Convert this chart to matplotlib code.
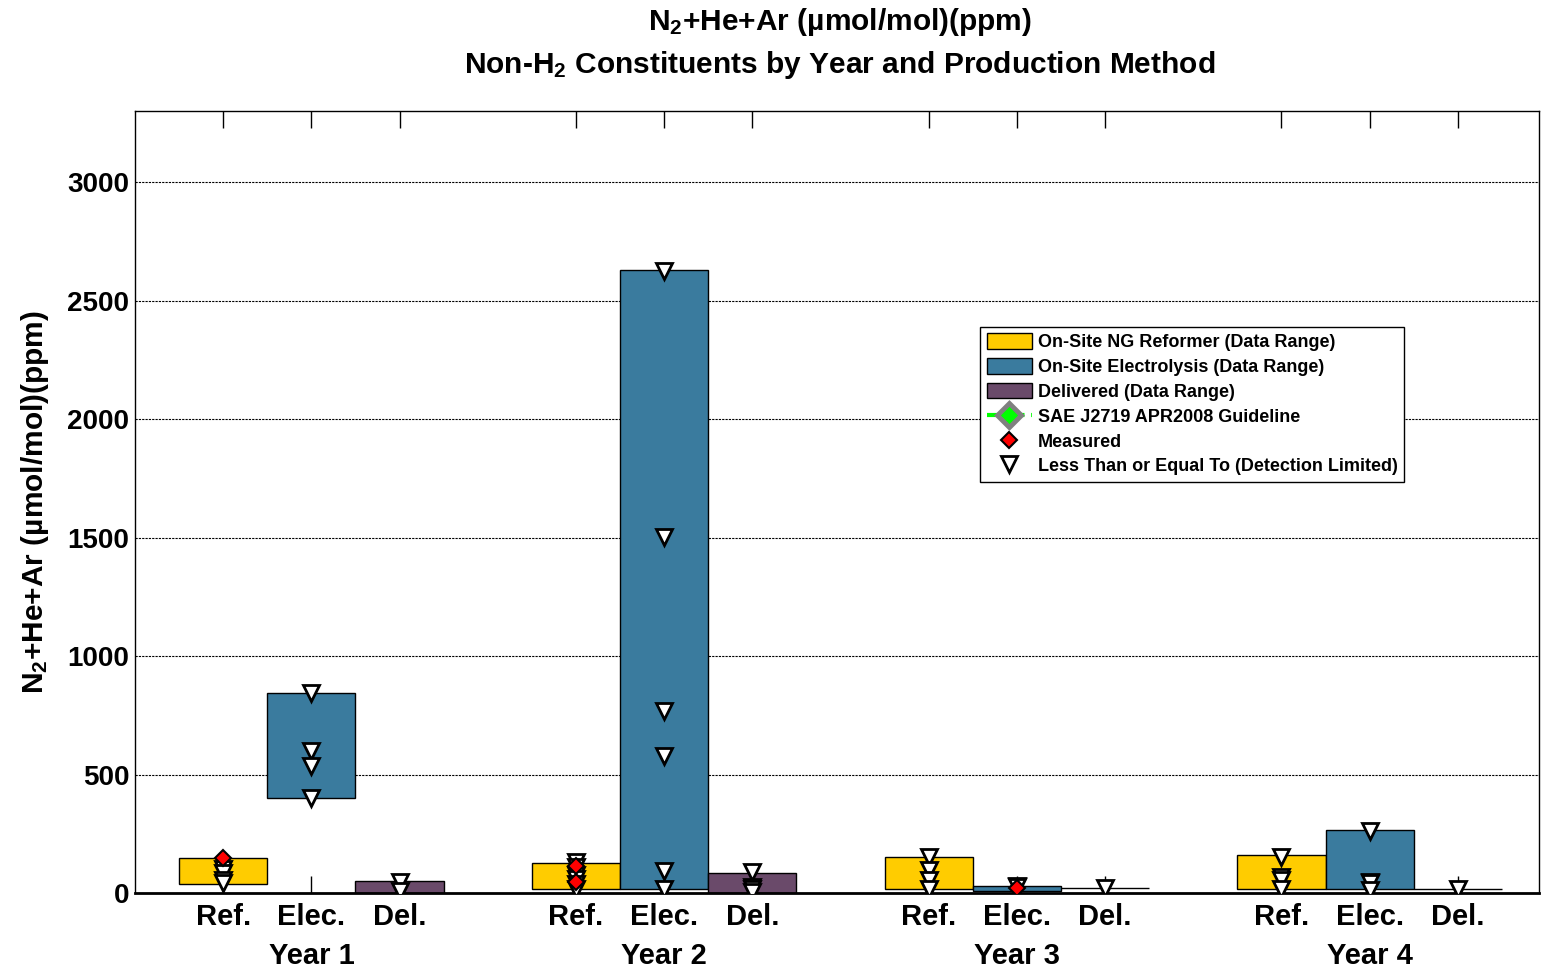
import numpy as np
import matplotlib
matplotlib.use('Agg')
import matplotlib.pyplot as plt
from matplotlib.patches import Patch
from matplotlib.lines import Line2D
from matplotlib.transforms import blended_transform_factory

plt.rcParams['font.family'] = ['Liberation Sans', 'DejaVu Sans']
plt.rcParams['font.weight'] = 'bold'
plt.rcParams['mathtext.fontset'] = 'custom'
plt.rcParams['mathtext.rm'] = 'Liberation Sans:bold'
plt.rcParams['mathtext.it'] = 'Liberation Sans:bold'
plt.rcParams['mathtext.bf'] = 'Liberation Sans:bold'

# data (ppm)
years = ['Year 1', 'Year 2', 'Year 3', 'Year 4']
methods = ['Ref.', 'Elec.', 'Del.']
positions = [1, 2, 3, 5, 6, 7, 9, 10, 11, 13, 14, 15]
range_low = [40, 400, 1, 17, 17, 1, 17, 10, 20, 15, 15, 15]
range_high = [148, 845, 50, 127, 2630, 84, 152, 30, 21, 160, 266, 16]

# measured values (red diamonds)
measured_x = [1, 5, 5, 10]
measured_y = [148, 115, 45, 21]

# detection limited values (open triangles)
dl_x = [1, 1, 1, 1,
        2, 2, 2, 2,
        3, 3,
        5, 5, 5, 5, 5, 5,
        6, 6, 6, 6, 6, 6,
        7, 7, 7, 7,
        9, 9, 9, 9,
        10, 10,
        11,
        13, 13, 13, 13,
        14, 14, 14, 14,
        15]
dl_y = [100, 85, 55, 42,
        845, 600, 535, 400,
        48, 10,
        130, 110, 75, 60, 40, 17,
        2625, 1502, 768, 578, 93, 17,
        88, 25, 15, 5,
        152, 97, 55, 17,
        30, 25,
        20,
        153, 68, 55, 17,
        262, 48, 43, 13,
        15]

colors = ['#FFCC00', '#3A7B9E', '#6A4A6A']

fig = plt.figure(figsize=(15.41, 9.71), dpi=100)
ax = fig.add_axes([135 / 1541, 1 - 893 / 971, 1404 / 1541, 782 / 971])

for i, p in enumerate(positions):
    ax.bar(p, range_high[i] - range_low[i], bottom=range_low[i], width=1.0,
           color=colors[i % 3], edgecolor='black', linewidth=1.0, zorder=2)

ax.plot(dl_x, dl_y, linestyle='none', marker='v', markersize=11.5,
        markerfacecolor='white', markeredgecolor='black', markeredgewidth=2, zorder=4)
ax.plot(measured_x, measured_y, linestyle='none', marker='D', markersize=8,
        markerfacecolor='red', markeredgecolor='black', markeredgewidth=1.5, zorder=5)

ax.set_xlim(0, 15.92)
ax.set_ylim(0, 3300)
ax.set_yticks(np.arange(0, 3001, 500))
ax.set_xticks(positions)
ax.set_xticklabels(methods * 4)
ax.tick_params(axis='both', direction='in', labelsize=20, top=True, right=True)
ax.tick_params(axis='x', length=12, width=1, pad=7, labelsize=21)
ax.tick_params(axis='y', length=0, pad=4)
for lab in ax.get_xticklabels() + ax.get_yticklabels():
    lab.set_fontweight('bold')
ax.set_axisbelow(True)
ax.yaxis.grid(True, color='black', linestyle=(0, (2, 1)), linewidth=0.8)
for s in ax.spines.values():
    s.set_linewidth(1.0)
ax.spines['bottom'].set_linewidth(2.0)

trans = blended_transform_factory(ax.transData, ax.transAxes)
for j, y in enumerate(years):
    ax.text(positions[3 * j + 1], -0.0805, y, transform=trans, ha='center',
            va='center', fontsize=21, fontweight='bold')

ax.set_ylabel('N$_2$+He+Ar (µmol/mol)(ppm)', fontsize=21.5, fontweight='bold', labelpad=12)
fig.text(0.545, 1 - 22 / 971, 'N$_2$+He+Ar (µmol/mol)(ppm)', ha='center', va='center',
         fontsize=21.5, fontweight='bold')
fig.text(0.545, 1 - 65 / 971, 'Non-H$_2$ Constituents by Year and Production Method',
         ha='center', va='center', fontsize=21.5, fontweight='bold')

handles = [
    Patch(facecolor=colors[0], edgecolor='black', label='On-Site NG Reformer (Data Range)'),
    Patch(facecolor=colors[1], edgecolor='black', label='On-Site Electrolysis (Data Range)'),
    Patch(facecolor=colors[2], edgecolor='black', label='Delivered (Data Range)'),
    Line2D([], [], color='#00FF00', linestyle='--', linewidth=3, marker='D', markersize=12,
           markerfacecolor='#00FF00', markeredgecolor='gray', markeredgewidth=3.5,
           label='SAE J2719 APR2008 Guideline'),
    Line2D([], [], linestyle='none', marker='D', markersize=8, markerfacecolor='red',
           markeredgecolor='black', markeredgewidth=1.5, label='Measured'),
    Line2D([], [], linestyle='none', marker='v', markersize=11, markerfacecolor='white',
           markeredgecolor='black', markeredgewidth=2,
           label='Less Than or Equal To (Detection Limited)'),
]
leg = ax.legend(handles=handles, loc='upper left', bbox_to_anchor=(0.602, 0.724),
                fontsize=13, frameon=True, fancybox=False, edgecolor='black',
                framealpha=1, borderpad=0.35, labelspacing=0.38, handlelength=2.5,
                handleheight=0.95, handletextpad=0.35, borderaxespad=0)
leg.get_frame().set_linewidth(1.0)
for t in leg.get_texts():
    t.set_fontweight('bold')

fig.savefig('out.png', dpi=100)
